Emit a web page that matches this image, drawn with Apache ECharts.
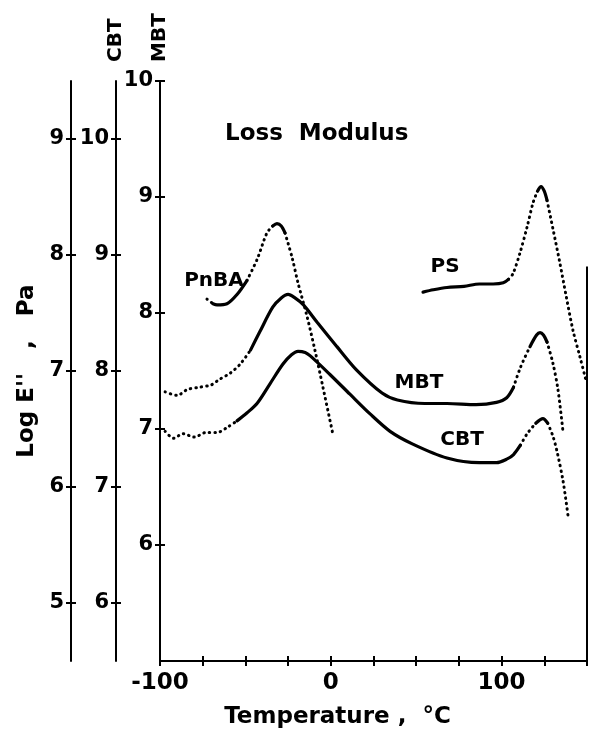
<!DOCTYPE html>
<html lang="en">
<head>
    <meta charset="utf-8">
    <title>Loss Modulus</title>
    <script src="https://cdn.jsdelivr.net/npm/echarts@6/dist/echarts.min.js"></script>
    <style>
        html, body { margin: 0; padding: 0; background: #fff; }
        #main { width: 589px; height: 739px; }
    </style>
</head>
<body>
<div id="main"></div>
<script type="text/javascript">
    // temperature (°C) / log E'' readings, each curve on its own scale
    var pnbaTemp = [-72.5, -69, -66.6, -60.8, -54.9, -49.1, -43.2, -37.4, -34, -31.5, -29, -26.8, -22.7, -19.2, -13.9, -9.3, -4.6, 1.3];
    var pnbaLogE = [7.62, 7.58, 7.57, 7.58, 7.66, 7.78, 7.96, 8.19, 8.25, 8.27, 8.25, 8.19, 7.98, 7.76, 7.47, 7.18, 6.86, 6.45];

    var psTemp = [54, 60, 68, 78, 87, 95, 101, 104, 106.7, 110.8, 114.9, 118.4, 121, 123.1, 125, 126.6, 130, 134, 138, 141.8, 145.9, 149.4];
    var psLogE = [7.68, 7.70, 7.72, 7.73, 7.75, 7.75, 7.76, 7.79, 7.84, 8.02, 8.24, 8.45, 8.55, 8.59, 8.55, 8.47, 8.23, 7.94, 7.63, 7.35, 7.12, 6.92];

    var mbtTemp = [-97, -90, -84, -77, -70, -65, -59, -53, -47, -41.5, -34, -29, -25, -21, -16, -8, 3.6, 15, 30, 39, 55, 68, 85, 97, 103, 107, 111, 116.6, 120.5, 122.5, 124.5, 126.6, 130, 133, 136];
    var mbtLogE = [7.32, 7.29, 7.34, 7.36, 7.38, 7.43, 7.48, 7.56, 7.68, 7.84, 8.05, 8.13, 8.16, 8.13, 8.07, 7.92, 7.71, 7.51, 7.31, 7.25, 7.22, 7.22, 7.21, 7.23, 7.27, 7.36, 7.53, 7.71, 7.81, 7.83, 7.81, 7.75, 7.57, 7.34, 6.97];

    var cbtTemp = [-97, -92, -86.5, -80, -73, -66.6, -60, -54.9, -49, -43.2, -35.6, -28, -23, -19.2, -15, -12, -0.5, 11.2, 23, 34.7, 48, 68, 87, 97, 103, 107, 111, 115, 120, 124.2, 127, 130, 132.4, 136, 139];
    var cbtLogE = [7.48, 7.42, 7.46, 7.43, 7.47, 7.47, 7.52, 7.57, 7.64, 7.72, 7.89, 8.06, 8.14, 8.17, 8.16, 8.13, 7.97, 7.80, 7.63, 7.48, 7.37, 7.25, 7.21, 7.21, 7.24, 7.28, 7.36, 7.46, 7.55, 7.59, 7.55, 7.44, 7.31, 7.05, 6.74];

    var tempLabels = [-100, 0, 100];
    var logTicks = [5, 6, 7, 8, 9];
    var cbtTicks = [6, 7, 8, 9, 10];
    var mbtTicks = [6, 7, 8, 9, 10];

    var FONT = 'DejaVu Sans';

    // where each trace is drawn as a run of dots or as a full line
    var pieces = {
        pnba: [[-80, -69, 'dot'], [-69, -49.1, 'solid'], [-49.1, -34, 'dot'], [-34, -26.8, 'solid'], [-26.8, 5, 'dot']],
        ps: [[50, 104, 'solid'], [104, 121, 'dot'], [121, 126.6, 'solid'], [126.6, 150, 'dot']],
        mbt: [[-100, -47, 'dot'], [-47, 107, 'solid'], [107, 116.6, 'dot'], [116.6, 126.6, 'solid'], [126.6, 140, 'dot']],
        cbt: [[-100, -54.9, 'dot'], [-54.9, 111, 'solid'], [111, 120, 'dot'], [120, 127, 'solid'], [127, 140, 'dot']]
    };

    function pts(t, v, lo, hi) {
        var out = [];
        for (var i = 0; i < t.length; i++) {
            if (t[i] >= lo && t[i] <= hi) out.push([t[i], v[i]]);
        }
        return out;
    }

    function traces(t, v, list, axis) {
        return list.map(function (p) {
            var dot = p[2] === 'dot';
            return {
                type: 'line',
                yAxisIndex: axis,
                data: pts(t, v, p[0], p[1]),
                showSymbol: false,
                smooth: 0.3,
                lineStyle: dot ? {color: '#000', width: 3, type: [0.5, 5], cap: 'round'}
                               : {color: '#000', width: 3.2, cap: 'round'},
                silent: true
            };
        });
    }

    // tickOnly: a copy shifted 5px right, no line, so its ticks finish the "+" marks
    function yAx(min, max, ticks, offset, tickOnly) {
        return {
            type: 'value',
            position: 'left',
            min: min,
            max: max,
            offset: tickOnly ? offset - 5 : offset,
            axisLine: {show: !tickOnly, onZero: false, lineStyle: {color: '#000', width: 2}},
            axisTick: {show: true, length: 5, customValues: ticks, lineStyle: {color: '#000', width: 2}},
            axisLabel: {show: !tickOnly, customValues: ticks, margin: 7, color: '#000',
                fontFamily: FONT, fontWeight: 'bold', fontSize: 21},
            splitLine: {show: false}
        };
    }

    var yAxes = [
        yAx(5, 10, mbtTicks, 0, false),
        yAx(5.5, 10.5, cbtTicks, 44, false),
        yAx(4.5, 9.5, logTicks, 89, false),
        yAx(5, 10, mbtTicks, 0, true),
        yAx(5.5, 10.5, cbtTicks, 44, true),
        yAx(4.5, 9.5, logTicks, 89, true)
    ];
    var nameStyle = {color: '#000', fontFamily: FONT, fontWeight: 'bold', fontSize: 20};
    yAxes[0].name = 'MBT';
    yAxes[0].nameLocation = 'end';
    yAxes[0].nameRotate = 90;
    yAxes[0].nameGap = 19;
    yAxes[0].nameTextStyle = nameStyle;
    yAxes[1].name = 'CBT';
    yAxes[1].nameLocation = 'end';
    yAxes[1].nameRotate = 90;
    yAxes[1].nameGap = 19;
    yAxes[1].nameTextStyle = nameStyle;
    yAxes[2].name = "Log E''   ,   Pa";
    yAxes[2].nameLocation = 'middle';
    yAxes[2].nameGap = 32;
    yAxes[2].nameTextStyle = {color: '#000', fontFamily: FONT, fontWeight: 'bold', fontSize: 23};

    var xAx = {
        type: 'value',
        position: 'bottom',
        min: -100,
        max: 150,
        interval: 25,
        axisLine: {onZero: false, lineStyle: {color: '#000', width: 2}},
        axisTick: {length: 5, lineStyle: {color: '#000', width: 2}},
        axisLabel: {
            margin: 11, color: '#000', fontFamily: FONT, fontWeight: 'bold', fontSize: 23,
            formatter: function (v) { return tempLabels.indexOf(v) >= 0 ? String(v) : ''; }
        },
        splitLine: {show: false},
        name: 'Temperature ,  °C',
        nameLocation: 'middle',
        nameGap: 45,
        nameTextStyle: {color: '#000', fontFamily: FONT, fontWeight: 'bold', fontSize: 23, padding: [0, 72, 0, 0]}
    };
    var xAxIn = {
        type: 'value', position: 'bottom', min: -100, max: 150, interval: 25,
        axisLine: {show: false, onZero: false},
        axisTick: {inside: true, length: 5, lineStyle: {color: '#000', width: 2}},
        axisLabel: {show: false},
        splitLine: {show: false}
    };

    var series = []
        .concat(traces(mbtTemp, mbtLogE, pieces.mbt, 0))
        .concat(traces(cbtTemp, cbtLogE, pieces.cbt, 1))
        .concat(traces(pnbaTemp, pnbaLogE, pieces.pnba, 2))
        .concat(traces(psTemp, psLogE, pieces.ps, 2));

    // partial right-hand frame as it shows in the scan
    series[0].markLine = {
        silent: true,
        symbol: 'none',
        label: {show: false},
        lineStyle: {color: '#000', width: 2, type: 'solid'},
        data: [[{coord: [150, 5]}, {coord: [150, 8.4]}]]
    };

    function tag(text, x, y) {
        return {
            type: 'text', x: x, y: y,
            style: {text: text, fill: '#000', font: 'bold 20px "DejaVu Sans"', align: 'center', verticalAlign: 'middle'}
        };
    }

    var myChart = echarts.init(document.getElementById('main'));
    var option = {
        animation: false,
        backgroundColor: '#fff',
        title: {
            text: 'Loss  Modulus',
            left: 220,
            top: 118,
            textStyle: {color: '#000', fontFamily: FONT, fontWeight: 'bold', fontSize: 23}
        },
        grid: {left: 160, right: 2, top: 81, bottom: 78, containLabel: false, outerBoundsMode: 'none'},
        xAxis: [xAx, xAxIn],
        yAxis: yAxes,
        series: series,
        graphic: [
            tag('PnBA', 214, 281),
            tag('PS', 445, 267),
            tag('MBT', 419, 383),
            tag('CBT', 462, 440)
        ]
    };
    myChart.setOption(option);
</script>
</body>
</html>
